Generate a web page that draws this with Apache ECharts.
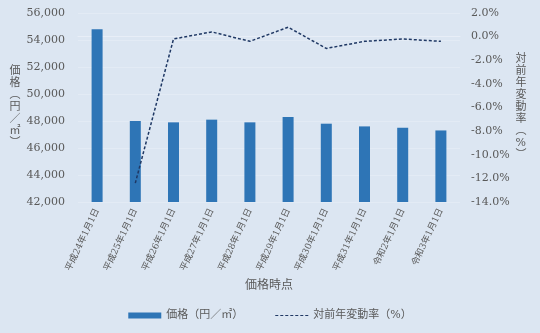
<!DOCTYPE html>
<html><head><meta charset="utf-8">
<script src="https://cdn.jsdelivr.net/npm/echarts@6/dist/echarts.min.js"></script>
<style>html,body{margin:0;padding:0;background:#dce6f2;}#c{width:540px;height:333px;}</style>
</head><body><div id="c"></div>
<script>
const categories = ['平成24年1月1日','平成25年1月1日','平成26年1月1日','平成27年1月1日','平成28年1月1日','平成29年1月1日','平成30年1月1日','平成31年1月1日','令和2年1月1日','令和3年1月1日'];
const prices = [54800, 48000, 47900, 48100, 47900, 48300, 47800, 47600, 47500, 47300];
const changes = [null, -12.4, -0.2, 0.4, -0.4, 0.8, -1.0, -0.4, -0.2, -0.4];
const priceName = '価格（円／㎡）';
const changeName = '対前年変動率（%）';
const priceNameV = ['価','格','︵','円','／','㎡','︶'];
const changeNameV = ['対','前','年','変','動','率','︵','%','︶'];

const FONT = '"DejaVu Serif", "Noto Sans CJK JP", serif';
const TXT = '#595959';
const chart = echarts.init(document.getElementById('c'), null, {renderer:'canvas'});
chart.setOption({
  backgroundColor: '#dce6f2',
  textStyle: {fontFamily: FONT, color: TXT},
  grid: {left: 78, right: 80, top: 13, bottom: 131},
  legend: {
    bottom: 7, left: 'center', itemGap: 32, itemWidth: 33, itemHeight: 6,
    textStyle: {fontFamily: FONT, color: TXT, fontSize: 11},
    data: [
      {name: priceName, icon: 'rect'},
      {name: changeName, icon: 'path://M0,0L3,0L3,1L0,1Z M5,0L8,0L8,1L5,1Z M10,0L13,0L13,1L10,1Z M15,0L18,0L18,1L15,1Z M20,0L23,0L23,1L20,1Z M25,0L28,0L28,1L25,1Z M30,0L33,0L33,1L30,1Z', itemStyle:{color:'#1f3864'}}
    ]
  },
  xAxis: {
    type: 'category', data: categories,
    name: '価格時点', nameLocation: 'middle', nameGap: 77,
    nameTextStyle: {fontFamily: FONT, color: TXT, fontSize: 12},
    axisLine: {show: true, lineStyle: {color: '#e8eef7'}},
    axisTick: {show: false},
    axisLabel: {rotate: 65, fontSize: 9, color: TXT, fontFamily: FONT, margin: 7, interval: 0},
  },
  yAxis: [
    {
      type: 'value', min: 42000, max: 56000, interval: 2000,
      name: priceNameV.join('\n'), nameLocation: 'middle', nameGap: 48, nameRotate: 0,
      nameTextStyle: {fontFamily: FONT, color: TXT, fontSize: 11, lineHeight: 12},
      axisLine: {show: false}, axisTick: {show: false},
      axisLabel: {color: TXT, fontSize: 11, fontFamily: FONT, margin: 13, formatter: v => v.toLocaleString('en-US')},
      splitLine: {lineStyle: {color: '#e3ebf5', width: 1}}
    },
    {
      type: 'value', min: -14, max: 2, interval: 2,
      name: changeNameV.join('\n'), nameLocation: 'middle', nameGap: 51, nameRotate: 0,
      nameTextStyle: {fontFamily: FONT, color: TXT, fontSize: 11, lineHeight: 12, padding: [8, 0, 0, 0]},
      axisLine: {show: false}, axisTick: {show: false},
      axisLabel: {color: TXT, fontSize: 11, fontFamily: FONT, margin: 11, formatter: v => v.toFixed(1) + '%'},
      splitLine: {show: false}
    }
  ],
  series: [
    {
      name: priceName, type: 'bar', data: prices, yAxisIndex: 0,
      barWidth: 11, itemStyle: {color: '#2e75b6'}
    },
    {
      name: changeName, type: 'line', data: changes, yAxisIndex: 1,
      symbol: 'none', connectNulls: false,
      lineStyle: {color: '#1f3864', width: 1.5, type: [3, 2]},
      itemStyle: {color: '#1f3864'}
    }
  ],
  animation: false
});
</script></body></html>
